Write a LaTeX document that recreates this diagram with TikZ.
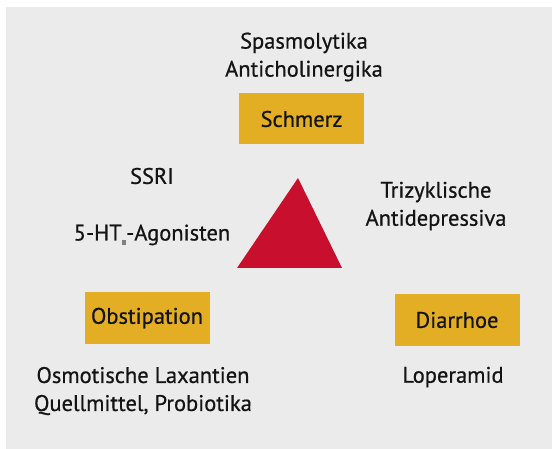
\documentclass[tikz,border=0pt]{standalone}
\usepackage{fontspec}
\setmainfont{PT Sans}
\newfontfamily\labelfont{PT Sans}[FakeBold=0.6]
\usepackage{tikz}

\definecolor{bggray}{RGB}{235,235,235}
\definecolor{boxgold}{RGB}{227,174,36}
\definecolor{tricrimson}{RGB}{200,16,46}
\definecolor{textdark}{RGB}{20,20,20}

\begin{document}
\begin{tikzpicture}[x=1pt,y=-1pt,
  label/.style={text=textdark,font=\labelfont\fontsize{22.5}{28}\selectfont,align=center,inner sep=0pt},
  symptom/.style={label,fill=boxgold,minimum width=125pt,minimum height=51pt}]

\useasboundingbox (0,0) rectangle (552,449);
%% background
\fill[bggray] (6,7) rectangle (552,449);

%% symptoms
\node[symptom] (schmerz) at (301.5,119) {Schmerz};
\node[symptom] (obstipation) at (147,318) {Obstipation};
\node[symptom] (diarrhoe) at (457,320) {Diarrhoe};

%%% triangle
\fill[tricrimson] (298,178) -- (342,268) -- (237,268) -- cycle;

%% drugs
\node[label] (spasmo) at (304,57) {Spasmolytika\\Anticholinergika};
\node[label] (ssri) at (152,176) {SSRI};
\node[label] (agonisten) at (152,235) {5-HT\raisebox{-5pt}{\color{gray}\rule{4.5pt}{5pt}}-Agonisten};
\node[label] (trizykl) at (436,206) {Trizyklische\\Antidepressiva};
\node[label] (laxantien) at (143,391) {Osmotische Laxantien\\Quellmittel, Probiotika};
\node[label] (loperamid) at (453,377) {Loperamid};

\end{tikzpicture}
\end{document}
